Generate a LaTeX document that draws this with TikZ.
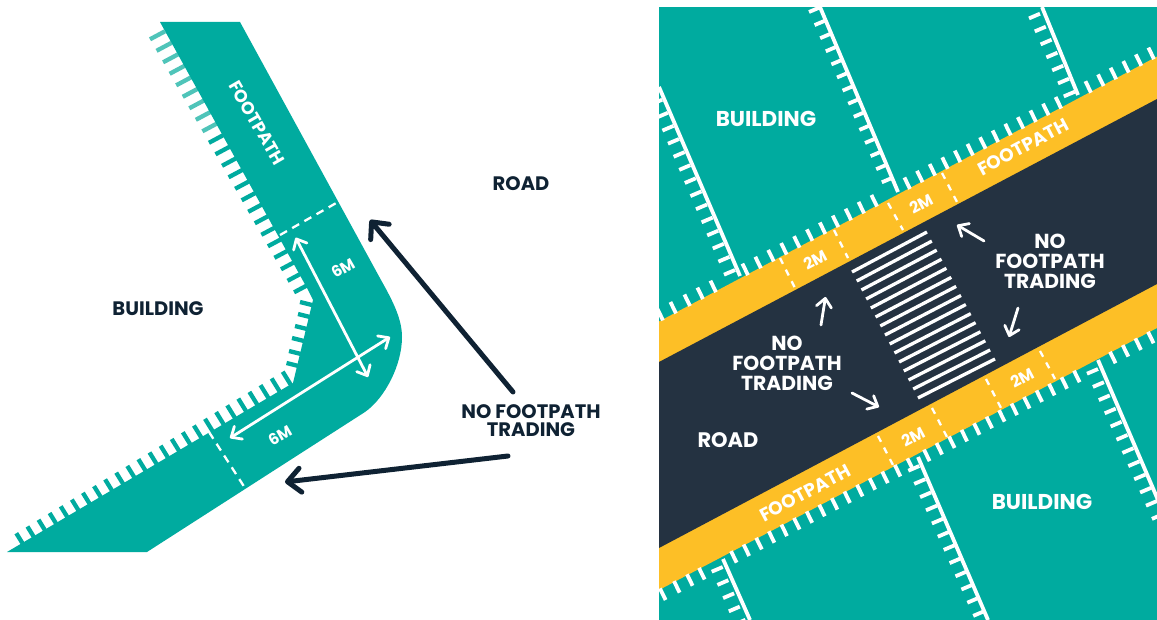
\documentclass[tikz,border=0pt]{standalone}
\usepackage{fontspec}
\setmainfont{Poppins}
\usetikzlibrary{arrows.meta}
\definecolor{teal1}{HTML}{00AB9F}
\definecolor{teallt}{HTML}{4FC4B9}
\definecolor{roadc}{HTML}{243241}
\definecolor{yellowc}{HTML}{FDBF26}
\definecolor{inkc}{HTML}{0F2233}
\tikzset{
  x=1pt,y=-1pt,
  lab/.style={font=\fontsize{#1}{#1}\selectfont\bfseries,text=white,inner sep=0pt,align=center},
  dlab/.style={font=\fontsize{#1}{#1}\selectfont\bfseries,text=inkc,inner sep=0pt,align=center},
  lab3/.style={lab=20.3,execute at begin node={\setlength{\baselineskip}{20pt}}},
  tickt/.style={line width=3.8pt},
  tickl/.style={line width=4.3pt},
  dashw/.style={white,line width=2.3pt,dash pattern=on 6.5pt off 6.5pt},
  bigarrow/.style={inkc,line width=5pt,line cap=round,-{Straight Barb[round,length=13pt,width=24pt]}},
  warrow/.style={white,line width=2.8pt,line cap=round,-{Straight Barb[round,length=8.5pt,width=15pt]}},
  warrows/.style={white,line width=2.8pt,line cap=round,{Straight Barb[round,length=8.5pt,width=15pt]}-{Straight Barb[round,length=8.5pt,width=15pt]}},
}
\begin{document}
\begin{tikzpicture}
\useasboundingbox (0,0) rectangle (1157,620);
\fill[white] (0,0) rectangle (1157,620);
% ---------- left panel ----------
\foreach \k in {0,...,8}
  \draw[teallt,tickl] ({150+6.55*\k},{39.3+11.5*\k}) -- ++(15,-8);
\foreach \k in {9,...,22}
  \draw[teal1,tickl] ({150+6.55*\k},{39.3+11.5*\k}) -- ++(15,-8);
\foreach \a/\b in {300/302,298/314,295/326,292/338,289/351,286.5/363}
  \draw[teal1,tickl] (\a,\b) -- ++(16,4);
\foreach \k in {0,...,24}
  \draw[teal1,tickl] ({282.7-11.1*\k},{371.7+6.73*\k}) -- ++(8,13);
\fill[teal1] (160,22) -- (240,22) -- (381,280)
  .. controls (394,303) and (402,320) .. (402,337)
  .. controls (402,365) and (385,398) .. (365,412)
  -- (147,552) -- (7,552) -- (293,383) -- (313,300) -- (307,288) -- cycle;
\coordinate (dl1a) at (280,235); \coordinate (dl1b) at (338,202);
\coordinate (dl2a) at (209,432); \coordinate (dl2b) at (245,488);
\draw[dashw,dash pattern=on 8pt off 6pt] (dl1a) -- (dl1b);
\draw[dashw,dash pattern=on 8pt off 6pt] (dl2a) -- (dl2b);
\coordinate (m1a) at (295.7,237.7); \coordinate (m1b) at (368,377);
\coordinate (m2a) at (230,438); \coordinate (m2b) at (390,337);
\draw[warrows] (m1a) -- (m1b);
\draw[warrows] (m2a) -- (m2b);
\node[lab=17.5,rotate=-60] (fpL) at (257,123) {FOOTPATH};
\node[lab=15.5,rotate=30] (sixA) at (343,268) {6M};
\node[lab=15.5,rotate=30] (sixB) at (280,435) {6M};
\node[dlab=19.5] (bldL) at (158,309) {BUILDING};
\node[dlab=19.5] (roadL) at (521,184) {ROAD};
\node[dlab=19.5,execute at begin node={\setlength{\baselineskip}{18pt}}] (nftL) at (531,421) {NO FOOTPATH\\TRADING};
\coordinate (ba1s) at (513,392); \coordinate (ba1e) at (370,220);
\coordinate (ba2s) at (508,456); \coordinate (ba2e) at (285,482);
\draw[bigarrow] (ba1s) -- (ba1e);
\draw[bigarrow] (ba2s) -- (ba2e);
% ---------- right panel ----------
\begin{scope}
\clip (659,7) rectangle (1157,620);
\fill[teal1] (659,7) rectangle (1157,620);
\fill[yellowc] (659,321.5) -- (1157,56.5) -- (1157,328) -- (659,590) -- cycle;
\fill[roadc] (659,362) -- (1157,99) -- (1157,284) -- (659,548) -- cycle;
% property lines
\foreach \xa/\ya/\xb/\yb in {820/7/898/192, 659/87/740/276, 1042/7/1078/95, 723/559/750/620, 918/457/988/620, 1098/360/1170/528}
  \draw[white,line width=3.8pt] (\xa,\ya) -- (\xb,\yb);
% line ticks
\foreach \k in {0,...,13}
  \draw[white,tickt] ({820+5.6*\k},{7.3+13.1*\k}) -- ++(-11,4.7);
\foreach \k in {0,...,14}
  \draw[white,tickt] ({735-5.6*\k},{270-13.1*\k}) -- ++(-11,4.7);
\foreach \k in {0,...,6}
  \draw[white,tickt] ({1040+5.8*\k},{13.7+13*\k}) -- ++(-11,4.7);
\foreach \k in {0,...,4}
  \draw[white,tickt] ({722.7+5.7*\k},{567+13.2*\k}) -- ++(-11,4.7);
\foreach \k in {0,...,11}
  \draw[white,tickt] ({919.3+5.9*\k},{466+13.2*\k}) -- ++(-11,4.7);
\foreach \k in {0,...,11}
  \draw[white,tickt] ({1098+5.9*\k},{369+13.2*\k}) -- ++(-11,4.7);
% road-edge ticks, upper side
\foreach \x in {660,673,687,700,713,
                745,757.9,770.8,783.7,796.6,809.5,822.4,835.3,848.2,861.1,874,
                907,919.6,932.2,944.8,957.4,970,982.6,995.2,1007.8,1020.4,1033,1045.6,1058.2,
                1088,1100.6,1113.2,1125.8,1138.4,1151}
  \draw[white,tickt] ({\x+3},{321.5-0.532*(\x+3-659)+1}) -- ++(-5.6,-11.5);
% road-edge ticks, lower side
\foreach \x in {663,677,690,702,
                734,746.6,759.2,771.8,784.4,797,809.6,822.2,834.8,847.4,860,872.6,885.2,897.8,910.4,
                927,939.5,952,964.5,977,989.5,1002,1014.5,1027,1039.5,1052,1064.5,1077,
                1113,1125.7,1138.4,1151}
  \draw[white,tickt] ({\x-3},{590-0.526*(\x-3-659)-1}) -- ++(5.6,11.5);
% dashes
\foreach \xa/\ya/\xb/\yb in {780/258/795/288, 834/230/848/258, 888/203/903/230, 942/173/957/202,
                             878/436/893/465, 932/408/947/437, 986/379/1001/408, 1040/351/1055/379}
  \draw[dashw] (\xa,\ya) -- (\xb,\yb);
% crossing
\foreach \i in {0,...,14}
  \draw[white,line width=3.3pt] ({852+4.71*\i},{272+9*\i}) -- ({927+4.86*\i},{232+9.07*\i});
\end{scope}
\node[lab=21.5] (bldA) at (766,119) {BUILDING};
\node[lab=21.5] (bldB) at (1042,502) {BUILDING};
\node[lab=21] (roadR) at (728,440) {ROAD};
\node[lab=18.5,rotate=28] (fpA) at (1023,147) {FOOTPATH};
\node[lab=18.5,rotate=28] (fpB) at (805,493) {FOOTPATH};
\node[lab=16,rotate=28] (tmA) at (815,260) {2M};
\node[lab=16,rotate=28] (tmB) at (921,204) {2M};
\node[lab=16,rotate=28] (tmC) at (913,437) {2M};
\node[lab=16,rotate=28] (tmD) at (1022,378) {2M};
\node[lab3] (nftA) at (1050,261) {NO\\FOOTPATH\\TRADING};
\node[lab3] (nftB) at (787,363) {NO\\FOOTPATH\\TRADING};
\coordinate (w1s) at (821,325); \coordinate (w1e) at (825.5,297);
\coordinate (w2s) at (852,393); \coordinate (w2e) at (879,407);
\coordinate (w3s) at (984,241); \coordinate (w3e) at (957,225);
\coordinate (w4s) at (1018,308); \coordinate (w4e) at (1009,337);
\draw[warrow] (w1s) -- (w1e);
\draw[warrow] (w2s) -- (w2e);
\draw[warrow] (w3s) -- (w3e);
\draw[warrow] (w4s) -- (w4e);
\end{tikzpicture}
\end{document}
